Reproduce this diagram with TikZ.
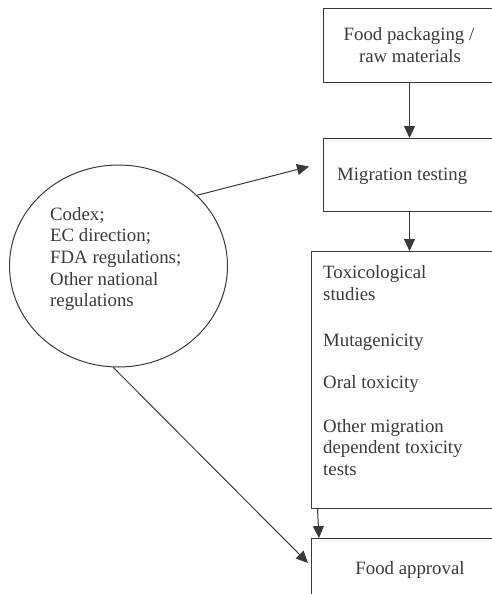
\documentclass[tikz,border=0pt]{standalone}
\usepackage{fontspec}
\setmainfont{Liberation Serif}
\usetikzlibrary{arrows.meta,shapes.geometric,calc}
\definecolor{ln}{HTML}{3A3A3A}
\definecolor{tx}{HTML}{3A3A3A}
\begin{document}
\begin{tikzpicture}[x=1pt,y=-1pt,
  box/.style={draw=ln, line width=1pt, rectangle, anchor=north west, inner sep=0pt},
  txt/.style={text=tx, font=\fontsize{18.8}{21.7}\selectfont, inner sep=0pt, anchor=base west},
  ctxt/.style={txt, anchor=base},
  conn/.style={draw=ln, line width=1pt, -{Triangle[length=12pt,width=11pt]}}]
\useasboundingbox (0,0) rectangle (492,594);
\clip (0,0) rectangle (492,594);
% boxes
\node[box, minimum width=172pt, minimum height=74pt] (b1) at (323,8) {};
\node[box, minimum width=172pt, minimum height=73pt] (b2) at (323,138) {};
\node[box, minimum width=184pt, minimum height=257pt] (b3) at (311,251) {};
\node[box, minimum width=184pt, minimum height=72pt] (b4) at (311,538) {};
\node[draw=ln, line width=1pt, ellipse, minimum width=218pt, minimum height=202pt, inner sep=0pt] (reg) at (118.5,266) {};
% texts
\node[ctxt] (t1a) at (409,41) {Food packaging /};
\node[ctxt] (t1b) at (410,63) {raw materials};
\node[txt] (t2) at (337,180) {Migration testing};
\node[txt] (t3a) at (323,278) {Toxicological};
\node[txt] (t3b) at (323,300) {studies};
\node[txt] (t3c) at (323,346) {Mutagenicity};
\node[txt] (t3d) at (323,388) {Oral toxicity};
\node[txt] (t3e) at (323,432) {Other migration};
\node[txt] (t3f) at (323,453.5) {dependent toxicity};
\node[txt] (t3g) at (323,475) {tests};
\node[ctxt] (t4) at (410,574) {Food approval};
\node[txt] (c1) at (50,220) {Codex;};
\node[txt] (c2) at (50,241.7) {EC direction;};
\node[txt] (c3) at (50,263.4) {FDA regulations;};
\node[txt] (c4) at (50,285) {Other national};
\node[txt] (c5) at (50,306.7) {regulations};
% connectors
\draw[conn] (b1.south) -- (b1.south |- b2.north);
\draw[conn] (b2.south) -- (b2.south |- b3.north);
\coordinate (p3) at ($(b3.south west)+(6.5,0)$);
\coordinate (p4) at ($(b4.north west)+(8,0)$);
\draw[conn] (p3) -- (p4);
\coordinate (e2) at (309,166.5);
\draw[conn] (reg.42) -- (e2);
\coordinate (e4) at (308,563);
\draw[conn] (reg.-93) -- (e4);
\end{tikzpicture}
\end{document}
